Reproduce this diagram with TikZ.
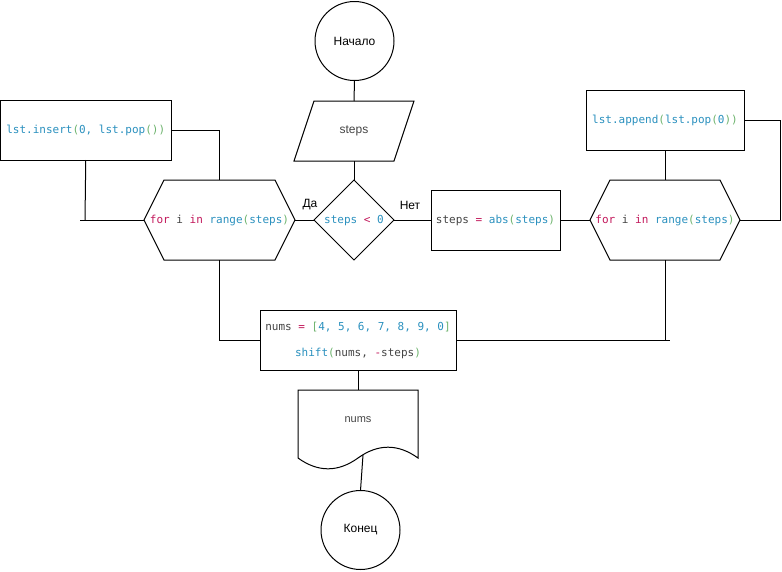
\documentclass[tikz,border=0pt]{standalone}
\usepackage{fontspec}
\setmainfont{Liberation Sans}
\newfontfamily\codefont{DejaVu Sans Mono}
\definecolor{ckwcol}{HTML}{C2185B}
\definecolor{cfncol}{HTML}{2A90BE}
\definecolor{cparcol}{HTML}{6DB36D}
\definecolor{cidcol}{HTML}{444444}
\newcommand\ckw[1]{\textcolor{ckwcol}{#1}}
\newcommand\cfn[1]{\textcolor{cfncol}{#1}}
\newcommand\cpar[1]{\textcolor{cparcol}{#1}}
\newcommand\cid[1]{\textcolor{cidcol}{#1}}
\begin{document}
\begin{tikzpicture}[x=1pt,y=-1pt,line width=1pt,
  every node/.style={inner sep=0pt,outer sep=0pt},
  code/.style={font=\codefont\fontsize{11}{13}\selectfont},
  plain/.style={font=\fontsize{12}{14}\selectfont},
  termnode/.style={circle,draw,minimum size=79pt,plain},
  procbox/.style={rectangle,draw,code},
  holder/.style={rectangle,code},
  conn/.style={draw,line width=1pt}]
\useasboundingbox (0,0) rectangle (782,571);

% terminals
\node[termnode] (start) at (354.5,41) {Начало};
\node[termnode] (finish) at (360.5,530) {Конец};

% input "steps" (parallelogram)
\node[holder,plain,minimum width=120pt,minimum height=60pt] (inp) at (354,131) {\textcolor{cidcol}{steps}};
\draw ([xshift=20pt]inp.north west) -- (inp.north east) -- ([xshift=-20pt]inp.south east) -- (inp.south west) -- cycle;

% decision
\node[holder,minimum width=80pt,minimum height=80pt] (dec) at (354,221) {\cfn{steps} \ckw{<} \cfn{0}};
\draw ([yshift=1pt]dec.north) -- ([yshift=1pt]dec.east) -- ([yshift=1pt]dec.south) -- ([yshift=1pt]dec.west) -- cycle;

% left loop
\node[holder,minimum width=151pt,minimum height=80pt] (loopl) at (219.5,220)
  {\ckw{for} \cid{i} \ckw{in} \cfn{range}\cpar{(}\cfn{steps}\cpar{)}};
\draw (loopl.west) -- ([xshift=20pt]loopl.north west) -- ([xshift=-20pt]loopl.north east)
  -- (loopl.east) -- ([xshift=-20pt]loopl.south east) -- ([xshift=20pt]loopl.south west) -- cycle;
\node[procbox,minimum width=170.5pt,minimum height=60pt] (ins) at (85.75,130)
  {\cfn{lst.insert}\cpar{(}\cfn{0, lst.pop}\cpar{())}};

% right branch
\node[procbox,minimum width=129pt,minimum height=60pt] (absb) at (495.5,220)
  {\cid{steps} \ckw{=} \cfn{abs}\cpar{(}\cfn{steps}\cpar{)}};
\node[holder,minimum width=150pt,minimum height=80pt] (loopr) at (665,220)
  {\ckw{for} \cid{i} \ckw{in} \cfn{range}\cpar{(}\cfn{steps}\cpar{)}};
\draw (loopr.west) -- ([xshift=20pt]loopr.north west) -- ([xshift=-20pt]loopr.north east)
  -- (loopr.east) -- ([xshift=-20pt]loopr.south east) -- ([xshift=20pt]loopr.south west) -- cycle;
\node[procbox,minimum width=158pt,minimum height=60pt] (app) at (665,120)
  {\cfn{lst.append}\cpar{(}\cfn{lst.pop}\cpar{(}\cfn{0}\cpar{))}};

% result
\node[procbox,minimum width=196pt,minimum height=60pt,align=center] (res) at (358,340)
  {\cid{nums} \ckw{=} \cpar{[}\cfn{4, 5, 6, 7, 8, 9, 0}\cpar{]}\\[13pt]
   \cfn{shift}\cpar{(}\cid{nums, }\ckw{-}\cid{steps}\cpar{)}};

% output document with a wavy lower edge
\node[holder,minimum width=120pt,minimum height=80pt,anchor=north] (doc) at (358,390) {};
\node[font=\fontsize{11}{13}\selectfont,text=cidcol] (doctext) at (358,420) {nums};
\draw (doc.north west) -- (doc.north east) -- ([yshift=12pt]doc.south east)
  .. controls (398,443.6) and (378,443.6) .. ([yshift=12pt]doc.south)
  .. controls (338,472.4) and (318,472.4) .. ([yshift=12pt]doc.south west) -- cycle;
\coordinate (docb) at (363,455);

% free ends of the loop junctions
\coordinate (lstub) at (80,220);
\coordinate (lbend) at (85,220);
\coordinate (rstub) at (670,340);
\coordinate (rbend) at (780,220);

% connectors
\path[conn] (start.south) -- (inp.north);
\path[conn] (inp.south) -- ([yshift=1pt]dec.north);
\path[conn] ([yshift=1pt]dec.west) -- (loopl.east);
\path[conn] ([yshift=1pt]dec.east) -- (absb.west);
\path[conn] (absb.east) -- (loopr.west);
\path[conn] (ins.east) -| (loopl.north);
\path[conn] (ins.south) -- (lbend);
\path[conn] (lstub) -- (loopl.west);
\path[conn] (loopl.south) |- (res.west);
\path[conn] (app.south) -- (loopr.north);
\path[conn] (app.east) -| (rbend) -- (loopr.east);
\path[conn] (loopr.south) -- (loopr.south |- res.east);
\path[conn] (res.east) -- (rstub);
\path[conn] (res.south) -- (doc.north);
\path[conn] (docb) -- (finish.north);

% branch labels
\node[plain] (yes) at (310,205) {Да};
\node[plain] (no) at (410,205) {Нет};
\end{tikzpicture}
\end{document}
